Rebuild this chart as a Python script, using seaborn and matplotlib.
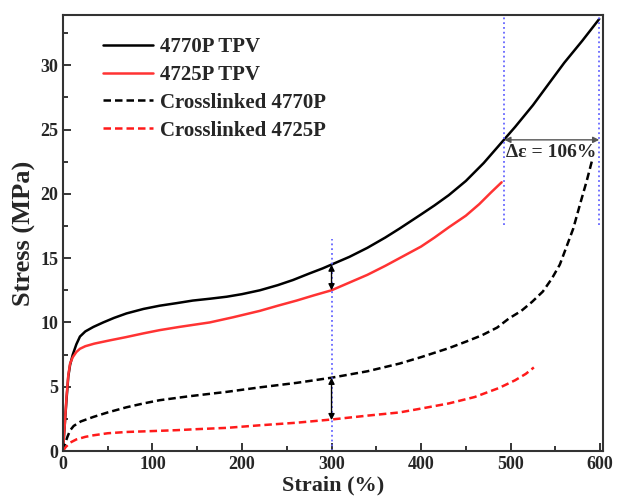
import numpy as np
import pandas as pd
import matplotlib
matplotlib.use("Agg")
import matplotlib.pyplot as plt
import seaborn as sns
from matplotlib.ticker import MultipleLocator

sns.set_theme(style="ticks")
plt.rcParams['font.family'] = ['Liberation Serif', 'DejaVu Serif']
plt.rcParams['font.weight'] = 'bold'

# 4770P TPV
tpv4770_x = [0, 2, 4, 6, 8, 11, 15, 19, 25, 34, 45, 57, 71, 90, 108, 127, 145, 165, 183, 200, 220, 240, 257,
             275, 290, 300, 320, 340, 360, 376, 400, 415, 431, 450, 470, 490, 505, 525, 543, 560, 580, 599]
tpv4770_y = [0, 2.0, 4.0, 5.8, 6.7, 7.5, 8.3, 8.9, 9.3, 9.65, 10.0, 10.35, 10.7, 11.05, 11.3, 11.5, 11.7, 11.85, 12.0, 12.2,
             12.5, 12.9, 13.3, 13.8, 14.2, 14.5, 15.1, 15.8, 16.6, 17.3, 18.4, 19.1, 19.9, 21.0, 22.4, 24.0, 25.2, 26.9,
             28.6, 30.2, 31.9, 33.6]
# 4725P TPV
tpv4725_x = [0, 2, 4, 6, 8, 11, 15, 19, 25, 35, 52, 70, 90, 108, 130, 164, 190, 220, 240, 261, 280, 300,
             320, 340, 360, 376, 400, 415, 431, 450, 465, 478, 490]
tpv4725_y = [0, 2.0, 4.2, 5.9, 6.8, 7.3, 7.7, 7.95, 8.15, 8.35, 8.6, 8.85, 9.15, 9.4, 9.65, 10.0, 10.4, 10.9, 11.3, 11.7,
             12.1, 12.5, 13.1, 13.7, 14.4, 15.0, 15.9, 16.6, 17.4, 18.3, 19.2, 20.1, 20.9]
# Crosslinked 4770P
xl4770_x = [0, 2, 5, 8, 12, 20, 34, 50, 71, 90, 108, 140, 183, 220, 261, 300, 340, 376, 400, 431, 450, 468,
            485, 498, 512, 524, 536, 546, 555, 562, 570, 578, 585, 591]
xl4770_y = [0, 0.5, 1.1, 1.6, 1.95, 2.3, 2.65, 3.0, 3.4, 3.7, 3.95, 4.25, 4.6, 4.95, 5.3, 5.7, 6.2, 6.8, 7.3, 8.0, 8.5, 9.0,
            9.6, 10.3, 10.9, 11.6, 12.4, 13.4, 14.5, 15.8, 17.3, 19.3, 21.0, 22.6]
# Crosslinked 4725P
xl4725_x = [0, 3, 8, 15, 25, 34, 50, 71, 100, 127, 150, 183, 220, 261, 300, 340, 376, 400, 431, 460, 487, 505, 517, 526]
xl4725_y = [0, 0.3, 0.65, 0.9, 1.1, 1.22, 1.38, 1.48, 1.55, 1.62, 1.7, 1.8, 2.0, 2.2, 2.45, 2.75, 3.0, 3.3, 3.7, 4.2,
            4.9, 5.5, 6.0, 6.5]

labels = ["4770P TPV", "4725P TPV", "Crosslinked 4770P", "Crosslinked 4725P"]

fig = plt.figure(figsize=(6.17, 5.01), dpi=100)
ax = fig.add_axes([0.102, 0.0998, 0.875, 0.870])

series = [
    (tpv4770_x, tpv4770_y, "black", "-"),
    (tpv4725_x, tpv4725_y, "#ff3333", "-"),
    (xl4770_x, xl4770_y, "black", "--"),
    (xl4725_x, xl4725_y, "#ff1a1a", "--"),
]
for (xs, ys, c, ls), lab in zip(series, labels):
    df = pd.DataFrame({"Strain": xs, "Stress": ys})
    sns.lineplot(data=df, x="Strain", y="Stress", ax=ax, color=c, linestyle=ls,
                 linewidth=1.8, label=lab, sort=False)
for ln in ax.lines[2:4]:
    ln.set_dashes((3, 1.6))

# guide lines
ax.plot([300, 300], [0, 16.5], ls=":", color="#6666ff", lw=1.3)
ax.plot([493, 493], [17.6, 34], ls=":", color="#6666ff", lw=1.3)
ax.plot([599, 599], [17.6, 34], ls=":", color="#6666ff", lw=1.3)

arrowkw = dict(arrowstyle="<|-|>", color="black", lw=1.0, mutation_scale=9, shrinkA=0, shrinkB=0)
ax.annotate("", xy=(300, 12.5), xytext=(300, 14.5), arrowprops=arrowkw)
ax.annotate("", xy=(300, 2.4), xytext=(300, 5.7), arrowprops=arrowkw)
ax.annotate("", xy=(493, 24.2), xytext=(599, 24.2),
            arrowprops=dict(arrowstyle="<|-|>", color="#555555", lw=1.0, mutation_scale=9, shrinkA=0, shrinkB=0))
ax.text(495, 23.9, "Δε = 106%", fontsize=14, fontweight="bold", ha="left", va="top")

ax.set_xlim(0, 603)
ax.set_ylim(0, 33.9)
ax.xaxis.set_major_locator(MultipleLocator(100))
ax.xaxis.set_minor_locator(MultipleLocator(50))
ax.yaxis.set_major_locator(MultipleLocator(5))
ax.yaxis.set_minor_locator(MultipleLocator(2.5))
ax.tick_params(which="both", direction="in", top=False, right=False, width=1.3)
ax.tick_params(which="major", length=6, labelsize=13)
ax.tick_params(which="minor", length=3.5)
for sp in ax.spines.values():
    sp.set_linewidth(1.5)
    sp.set_color("#333333")
for t in ax.get_xticklabels() + ax.get_yticklabels():
    t.set_fontweight("bold")

ax.set_xlabel("Strain (%)", fontsize=16, fontweight="bold", labelpad=2)
ax.set_ylabel("Stress (MPa)", fontsize=19, fontweight="bold", labelpad=3)

leg = ax.legend(loc="upper left", bbox_to_anchor=(0.04, 0.993), frameon=False,
                prop={"size": 15, "weight": "bold"}, handlelength=2.4, handletextpad=0.3,
                labelspacing=0.38)

fig.savefig("out.png", dpi=100)
